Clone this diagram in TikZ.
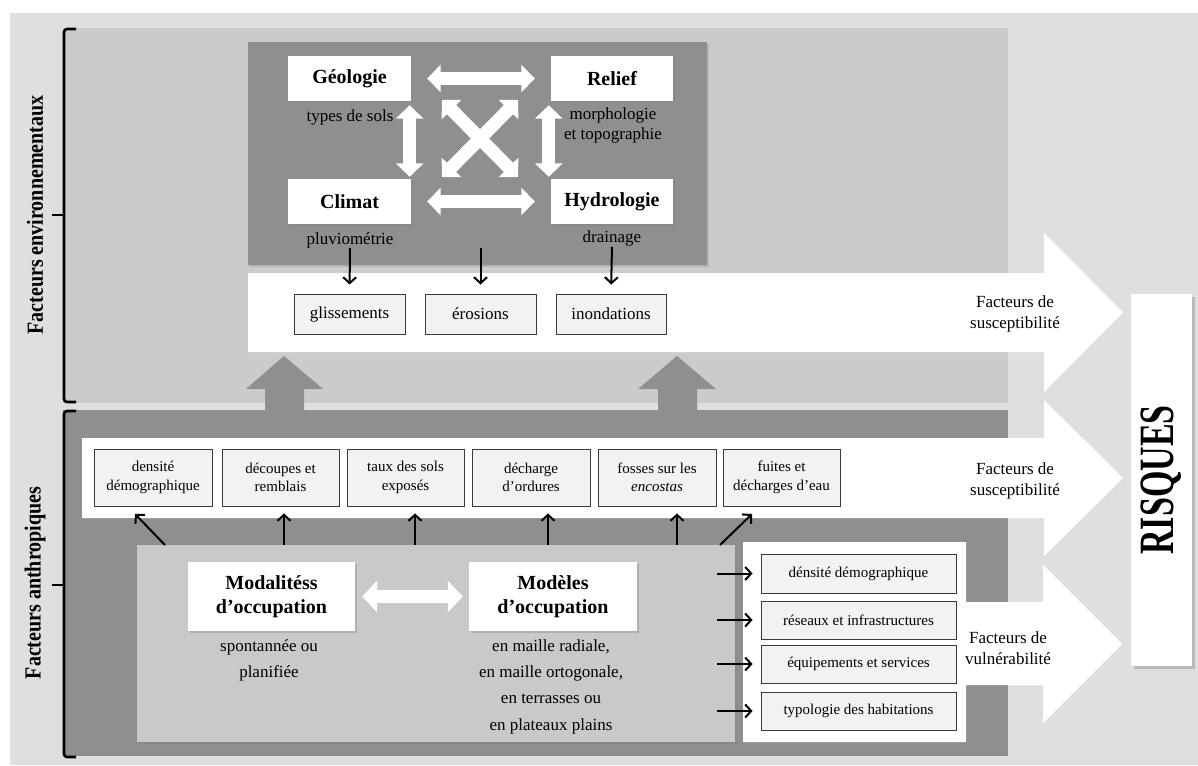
\documentclass[tikz,border=0pt]{standalone}
\usepackage{fontspec}
\usepackage{graphicx}
\setmainfont{Liberation Serif}
\usetikzlibrary{arrows.meta,shadows}
\definecolor{bgout}{HTML}{DFDFDF}
\definecolor{panel}{HTML}{CBCBCB}
\definecolor{darkp}{HTML}{8F8F8F}
\definecolor{innerc}{HTML}{C9C9C9}
\definecolor{sfill}{HTML}{F2F2F2}
\definecolor{sdraw}{HTML}{3A3A3A}
\newcommand{\myfa}{\fontsize{17}{21}\selectfont}
\newcommand{\myfb}{\fontsize{15}{18.5}\selectfont}
\newcommand{\myfh}{\fontsize{20}{24}\selectfont\bfseries}
\begin{document}
\begin{tikzpicture}[x=1pt,y=-1pt,
  wbox/.style={fill=white, drop shadow={shadow xshift=1.5pt, shadow yshift=-1.5pt, opacity=0.35}, font=\myfh, inner sep=0pt, align=center},
  sbox/.style={draw=sdraw, fill=sfill, line width=0.9pt, align=center, inner sep=0pt, font=\myfb},
  lbl/.style={font=\myfa, align=center, inner sep=0pt},
  dbl/.style={draw=white, line width=13pt, arrows={Triangle[width=27pt,length=13.5pt]-Triangle[width=27pt,length=13.5pt]}},
  dblb/.style={draw=white, line width=13pt, arrows={Triangle[width=31pt,length=15pt]-Triangle[width=31pt,length=15pt]}},
  blk/.style={draw=black, line width=2pt, arrows={-Straight Barb[length=6pt,width=13pt]}},
  brace/.style={draw=black, line width=2.6pt, rounded corners=3pt},
  side/.style={rotate=90, font=\myfh, inner sep=0pt}
]
\useasboundingbox (0,0) rectangle (1198,765);
% backgrounds
\fill[bgout] (10,13) rectangle (1198,765);
\fill[panel] (63,28) rectangle (1008,403);
\fill[darkp] (63,410) rectangle (1008,756);
% grey upward arrows
\fill[darkp] (265,411) -- (265,389) -- (246,389) -- (284,356) -- (323,389) -- (304,389) -- (304,411) -- cycle;
\fill[darkp] (658,411) -- (658,389) -- (638,389) -- (677,356) -- (716,389) -- (697,389) -- (697,411) -- cycle;
% top dark box
\node[fill=darkp, minimum width=459pt, minimum height=223pt, inner sep=0pt,
      drop shadow={shadow xshift=1.5pt, shadow yshift=-2pt, opacity=0.3}] (env) at (477.5,153.5) {};
% big white arrows
\fill[white] (248,273) -- (1044,273) -- (1044,233) -- (1123,312.5) -- (1044,392) -- (1044,352) -- (248,352) -- cycle;
\fill[white] (82,438) -- (1044,438) -- (1044,400) -- (1123,478) -- (1044,556) -- (1044,518) -- (82,518) -- cycle;
\fill[white] (743,542) -- (966,542) -- (966,602) -- (1043,602) -- (1043,565) -- (1122,644) -- (1043,723) -- (1043,685) -- (966,685) -- (966,742) -- (743,742) -- cycle;
% inner light box
\node[fill=innerc, minimum width=598pt, minimum height=197pt, inner sep=0pt,
      drop shadow={shadow xshift=2pt, shadow yshift=-2pt, opacity=0.35}] (inner) at (436,643.5) {};
% braces
\draw[brace] (76,29) -- (64,29) -- (64,402) -- (76,402);
\draw[brace] (64,215) -- (52,215);
\draw[brace] (76,411) -- (64,411) -- (64,757) -- (76,757);
\draw[brace] (64,585) -- (52,585);
\node[side] (lenv) at (35,215) {\scalebox{1}[1.15]{Facteurs environnementaux}};
\node[side] (lant) at (35,583) {\scalebox{1}[1.15]{Facteurs anthropiques}};
% environment boxes
\node[wbox, minimum width=123pt, minimum height=45pt] (geo) at (349.5,78.5) {Géologie};
\node[wbox, minimum width=122pt, minimum height=45pt] (rel) at (612,78.5) {Relief};
\node[wbox, minimum width=123pt, minimum height=45pt] (cli) at (349.5,201.5) {Climat};
\node[wbox, minimum width=122pt, minimum height=45pt] (hyd) at (612,201.5) {Hydrologie};
\node[lbl] (sols) at (350,117) {types de sols};
\node[lbl, font=\fontsize{17}{20}\selectfont] (morph) at (613,125) {morphologie\\et topographie};
\node[lbl] (pluv) at (350,240) {pluviométrie};
\node[lbl] (drain) at (612,238) {drainage};
% double arrows
\draw[dbl, shorten <=16pt, shorten >=16pt] (geo.east) -- (rel.west);
\draw[dbl, shorten <=16pt, shorten >=16pt] (cli.east) -- (hyd.west);
\draw[dbl, shorten <=4pt, shorten >=2pt] ([xshift=-1.5pt]geo.south east) -- ([xshift=-1.5pt]cli.north east);
\draw[dbl, shorten <=4pt, shorten >=2pt] ([xshift=-2pt]rel.south west) -- ([xshift=-2pt]hyd.north west);
\coordinate (xa) at (442,100);
\coordinate (xb) at (518,177);
\coordinate (xc) at (518,100);
\coordinate (xd) at (442,177);
\draw[dbl] (xa) -- (xb);
\draw[dbl] (xc) -- (xd);
% result boxes
\node[sbox, font=\myfa, minimum width=111pt, minimum height=40pt] (gli) at (349.5,314) {glissements};
\node[sbox, font=\myfa, minimum width=111pt, minimum height=40pt] (ero) at (480.5,314) {érosions};
\node[sbox, font=\myfa, minimum width=110pt, minimum height=40pt] (ino) at (611,314) {inondations};
\coordinate (eros) at (480.5,248);
\draw[blk, shorten >=9pt] (pluv.south) -- (gli.north);
\draw[blk, shorten >=9pt] (eros) -- (ero.north);
\draw[blk, shorten <=1pt, shorten >=9pt] (drain.south) -- (ino.north);
\node[lbl] (fs1) at (1015,314) {Facteurs de\\susceptibilité};
% anthropic row
\node[sbox, minimum width=118pt, minimum height=57pt] (dens) at (153,477.5) {densité\\démographique};
\node[sbox, minimum width=117pt, minimum height=57pt] (dec) at (280.5,477.5) {découpes et\\remblais};
\node[sbox, minimum width=117pt, minimum height=57pt] (taux) at (405.5,477.5) {taux des sols\\exposés};
\node[sbox, minimum width=118pt, minimum height=57pt] (dech) at (531,477.5) {décharge\\d’ordures};
\node[sbox, minimum width=118pt, minimum height=57pt] (fos) at (657,477.5) {fosses sur les\\\textit{encostas}};
\node[sbox, minimum width=117pt, minimum height=57pt] (fui) at (781.5,477.5) {fuites et\\décharges d’eau};
\node[lbl] (fs2) at (1015,481) {Facteurs de\\susceptibilité};
% arrows from inner box to row
\coordinate (s1) at (165,545);
\coordinate (e1) at (135,514);
\coordinate (s2) at (284,545);
\coordinate (s3) at (415,545);
\coordinate (s4) at (548,545);
\coordinate (s5) at (677,545);
\coordinate (s6) at (720,545);
\coordinate (e6) at (752,514);
\draw[blk] (s1) -- (e1);
\draw[blk, shorten >=7pt] (s2) -- (s2 |- dec.south);
\draw[blk, shorten >=7pt] (s3) -- (s3 |- taux.south);
\draw[blk, shorten >=7pt] (s4) -- (s4 |- dech.south);
\draw[blk, shorten >=7pt] (s5) -- (s5 |- fos.south);
\draw[blk] (s6) -- (e6);
% occupation
\node[wbox, minimum width=167pt, minimum height=69pt] (moda) at (271.5,596.5) {Modalitéss\\d’occupation};
\node[wbox, minimum width=168pt, minimum height=69pt] (mode) at (553,596.5) {Modèles\\d’occupation};
\draw[dblb, shorten <=7pt, shorten >=6pt] (moda.east) -- (mode.west);
\node[lbl, font=\fontsize{17}{26}\selectfont] (spon) at (269,660) {spontannée ou\\planifiée};
\node[lbl, font=\fontsize{17}{26.3}\selectfont] (mail) at (551,686.5) {en maille radiale,\\en maille ortogonale,\\en terrasses ou\\en plateaux plains};
% vulnerability
\node[sbox, minimum width=195pt, minimum height=39pt] (v1) at (858.5,573.5) {dénsité démographique};
\node[sbox, minimum width=195pt, minimum height=38pt] (v2) at (858.5,620) {réseaux et infrastructures};
\node[sbox, minimum width=195pt, minimum height=38pt] (v3) at (858.5,664) {équipements et services};
\node[sbox, minimum width=195pt, minimum height=38pt] (v4) at (858.5,711) {typologie des habitations};
\coordinate (t1) at (717,573.5);
\coordinate (t2) at (717,620);
\coordinate (t3) at (717,664);
\coordinate (t4) at (717,711);
\draw[blk, shorten >=8pt] (t1) -- (v1.west);
\draw[blk, shorten >=8pt] (t2) -- (v2.west);
\draw[blk, shorten >=8pt] (t3) -- (v3.west);
\draw[blk, shorten >=8pt] (t4) -- (v4.west);
\node[lbl] (fv) at (1008,648) {Facteurs de\\vulnérabilité};
% risques
\node[fill=white, minimum width=61pt, minimum height=372pt, inner sep=0pt,
      drop shadow={shadow xshift=3pt, shadow yshift=-3pt, opacity=0.4}] (risq) at (1161.5,480) {};
\node[rotate=90, font=\fontsize{34}{40}\selectfont\bfseries, inner sep=0pt] (risqt) at (risq.center) {\scalebox{1}[1.45]{RISQUES}};
\end{tikzpicture}
\end{document}
